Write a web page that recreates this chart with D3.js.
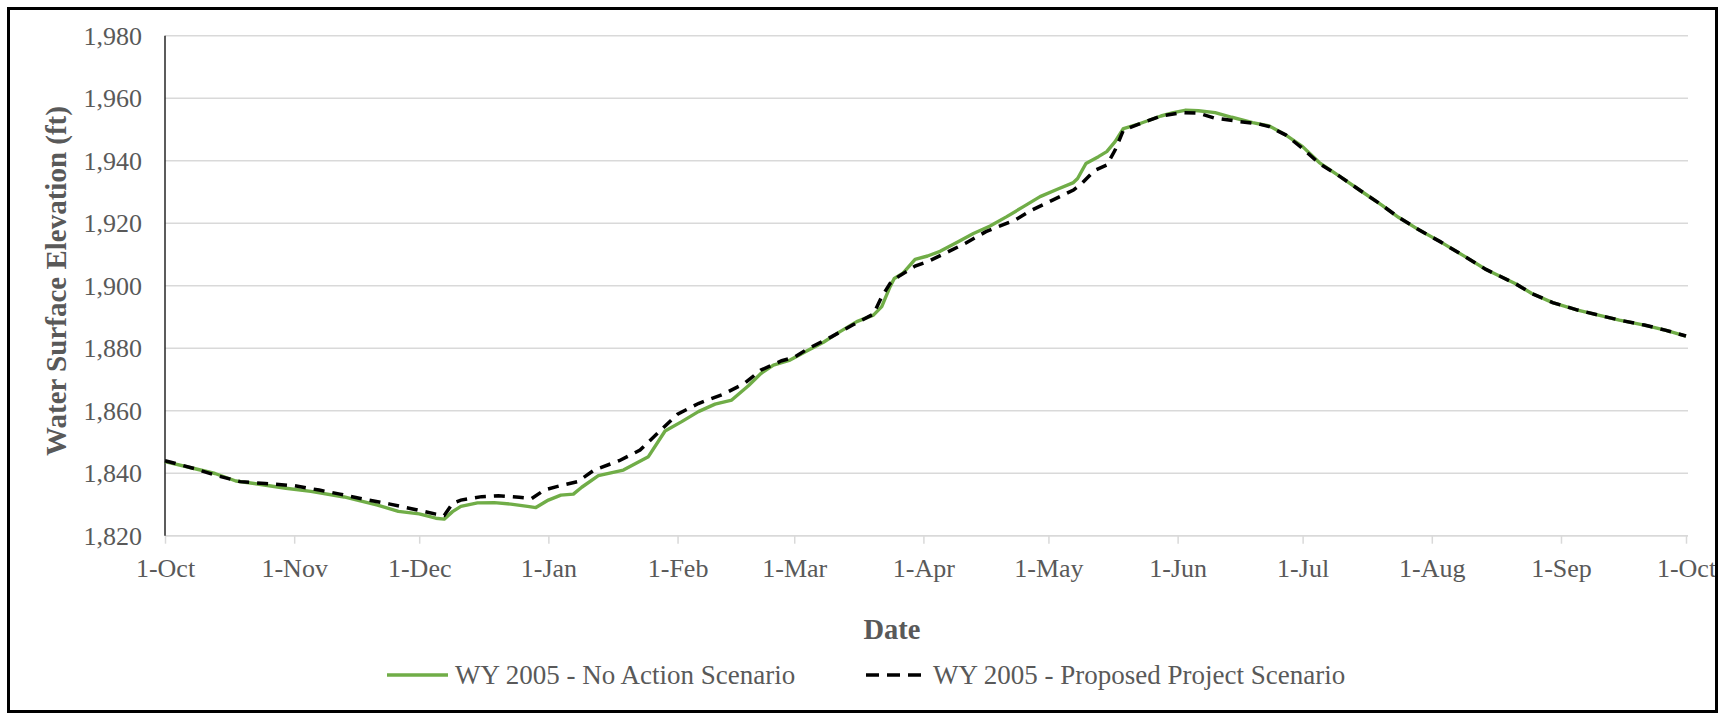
<!DOCTYPE html>
<html>
<head>
<meta charset="utf-8">
<script src="https://cdn.jsdelivr.net/npm/d3@7"></script>
<style>
  body { margin: 0; background: #fff; }
  svg { display: block; }
  text { font-family: "Liberation Serif", "Times New Roman", serif; fill: #595959; }
</style>
</head>
<body>
<svg id="chart" width="1728" height="715"></svg>
<script>
// days are counted from 1-Oct-2004 (start of water year 2005)
const startDate = "2004-10-01";
const endDate = "2005-10-01";

const noActionDays = [0, 7, 12, 17, 23, 29, 35, 43, 51, 56, 61, 65, 67, 69, 71, 75, 79, 83, 87, 89,
  92, 95, 98, 100, 104, 110, 116, 120, 124, 128, 132, 136, 140, 143, 146, 150, 154, 158, 162, 166,
  170, 172, 174, 175, 177, 180, 183, 186, 190, 194, 198, 202, 206, 210, 214, 218, 219, 221, 224, 226,
  228, 230, 234, 239, 242, 245, 248, 252, 256, 261, 265, 269, 273, 277, 282, 287, 292, 296, 301, 306,
  312, 317, 324, 328, 333, 339, 344, 349, 355, 360, 365];
const noActionWse = [1843.7, 1841.5, 1839.9, 1837.5, 1836.4, 1835.2, 1834.2, 1832.4, 1829.8, 1827.8,
  1827.0, 1825.6, 1825.3, 1827.7, 1829.4, 1830.5, 1830.6, 1830.1, 1829.4, 1829.0,
  1831.4, 1833.0, 1833.3, 1835.5, 1839.2, 1841.0, 1845.3, 1853.5, 1856.5, 1859.7,
  1862.1, 1863.4, 1868.0, 1871.9, 1874.6, 1876.2, 1879.1, 1881.9, 1885.3, 1888.5,
  1890.6, 1893.3, 1899.7, 1902.3, 1903.9, 1908.4, 1909.5, 1911.0, 1913.8, 1916.7,
  1919.1, 1922.1, 1925.3, 1928.5, 1930.8, 1933.0, 1934.3, 1939.1, 1941.3, 1942.9,
  1946.1, 1950.3, 1951.9, 1954.3, 1955.4, 1956.2, 1956.0, 1955.4, 1953.9, 1952.2,
  1951.1, 1948.2, 1944.5, 1939.4, 1934.9, 1930.3, 1925.8, 1921.9, 1917.8, 1914.1,
  1909.3, 1905.2, 1900.7, 1897.5, 1894.6, 1892.2, 1890.6, 1889.0, 1887.4, 1885.8, 1883.9];

const proposedDays = [0, 7, 12, 18, 24, 31, 37, 42, 48, 54, 60, 65, 67, 69, 71, 76, 80, 85, 88, 91,
  94, 99, 103, 109, 114, 119, 123, 128, 134, 139, 143, 148, 151, 154, 160, 165, 170, 172, 174, 176,
  180, 183, 188, 192, 197, 204, 208, 213, 218, 220, 223, 226, 228, 230, 234, 239, 244, 248, 252, 258,
  262, 265, 269, 273, 277, 282, 287, 292, 296, 301, 306, 312, 317, 324, 328, 333, 339, 344, 349, 355,
  360, 365];
const proposedWse = [1844.0, 1841.5, 1839.4, 1837.3, 1836.7, 1836.0, 1834.6, 1833.3, 1831.6, 1830.1,
  1828.4, 1826.9, 1826.5, 1830.3, 1831.4, 1832.5, 1832.8, 1832.3, 1831.9, 1834.6,
  1835.7, 1837.3, 1841.0, 1844.0, 1847.4, 1853.8, 1858.9, 1862.3, 1865.3, 1868.7,
  1873.0, 1876.0, 1877.1, 1879.6, 1883.7, 1887.4, 1890.9, 1896.5, 1900.7, 1902.9,
  1906.3, 1907.7, 1910.9, 1913.5, 1917.3, 1921.0, 1924.2, 1927.4, 1930.6, 1932.7,
  1936.8, 1938.6, 1943.4, 1949.8, 1951.9, 1954.3, 1955.4, 1955.2, 1953.6, 1952.5,
  1951.9, 1950.9, 1948.2, 1943.9, 1939.1, 1934.9, 1930.3, 1925.8, 1921.9, 1917.8,
  1914.1, 1909.3, 1905.2, 1900.7, 1897.5, 1894.6, 1892.2, 1890.6, 1889.0, 1887.4,
  1885.8, 1883.9];

const yTicks = [1820, 1840, 1860, 1880, 1900, 1920, 1940, 1960, 1980];
const legendLabels = ["WY 2005 - No Action Scenario", "WY 2005 - Proposed Project Scenario"];
const xTitle = "Date";
const yTitle = "Water Surface Elevation (ft)";

var svg = d3.select("#chart");
var parse = d3.timeParse("%Y-%m-%d");
var t0 = parse(startDate), t1 = parse(endDate);

var x = d3.scaleTime().domain([t0, t1]).range([165, 1686]);
var y = d3.scaleLinear().domain([1820, 1980]).range([535.7, 35.7]);

function toPoints(days, vals) {
    return days.map(function(d, i) { return { date: d3.timeDay.offset(t0, d), v: vals[i] }; });
}
var noAction = toPoints(noActionDays, noActionWse);
var proposed = toPoints(proposedDays, proposedWse);

// horizontal gridlines
svg.append("g")
    .selectAll("line")
    .data(yTicks)
    .enter().append("line")
    .attr("x1", 165).attr("x2", 1688)
    .attr("y1", function(d) { return y(d); })
    .attr("y2", function(d) { return y(d); })
    .attr("stroke", "#d9d9d9")
    .attr("stroke-width", 1.5);

// y tick labels
svg.append("g")
    .selectAll("text")
    .data(yTicks)
    .enter().append("text")
    .attr("x", 142)
    .attr("y", function(d) { return y(d); })
    .attr("dy", "0.34em")
    .attr("text-anchor", "end")
    .style("font-size", "26px")
    .text(d3.format(","));

// x axis: ticks at the first of every month
var xAxis = d3.axisBottom(x)
    .ticks(d3.timeMonth.every(1))
    .tickFormat(d3.timeFormat("%-d-%b"))
    .tickSizeInner(8)
    .tickSizeOuter(0)
    .tickPadding(15);

var gx = svg.append("g")
    .attr("transform", "translate(0," + y(1820) + ")")
    .call(xAxis);
gx.select(".domain").attr("stroke", "#d9d9d9").attr("stroke-width", 1.5).attr("d", "M165,0H1688");
gx.selectAll(".tick line").attr("stroke", "#d9d9d9").attr("stroke-width", 1.5);
gx.selectAll(".tick text")
    .attr("fill", "#595959")
    .style("font-size", "26px")
    .style("font-family", "'Liberation Serif', 'Times New Roman', serif");

// y axis line
svg.append("line")
    .attr("x1", 165).attr("x2", 165)
    .attr("y1", y(1980)).attr("y2", y(1820))
    .attr("stroke", "#262626")
    .attr("stroke-width", 1.5);

var line = d3.line()
    .x(function(d) { return x(d.date); })
    .y(function(d) { return y(d.v); });

svg.append("path")
    .datum(noAction)
    .attr("fill", "none")
    .attr("stroke", "#70ad47")
    .attr("stroke-width", 3.4)
    .attr("stroke-linejoin", "round")
    .attr("d", line);

svg.append("path")
    .datum(proposed)
    .attr("fill", "none")
    .attr("stroke", "#000")
    .attr("stroke-width", 3.5)
    .attr("stroke-dasharray", "11,8")
    .attr("d", line);

// axis titles
svg.append("text")
    .attr("x", 892).attr("y", 639)
    .attr("text-anchor", "middle")
    .style("font-size", "28.5px")
    .style("font-weight", "bold")
    .text(xTitle);

svg.append("text")
    .attr("transform", "translate(66,281) rotate(-90)")
    .attr("text-anchor", "middle")
    .style("font-size", "29px")
    .style("font-weight", "bold")
    .text(yTitle);

// legend
var legend = svg.append("g");
legend.append("line")
    .attr("x1", 387).attr("x2", 448).attr("y1", 675).attr("y2", 675)
    .attr("stroke", "#70ad47").attr("stroke-width", 3.4);
legend.append("text")
    .attr("x", 455).attr("y", 684)
    .style("font-size", "27px")
    .text(legendLabels[0]);
legend.append("line")
    .attr("x1", 866).attr("x2", 926).attr("y1", 675).attr("y2", 675)
    .attr("stroke", "#000").attr("stroke-width", 3.5)
    .attr("stroke-dasharray", "13,8");
legend.append("text")
    .attr("x", 933).attr("y", 684)
    .style("font-size", "27px")
    .text(legendLabels[1]);

// outer frame
svg.append("rect")
    .attr("x", 8.5).attr("y", 8.5)
    .attr("width", 1708).attr("height", 703)
    .attr("fill", "none")
    .attr("stroke", "#000")
    .attr("stroke-width", 3);
</script>
</body>
</html>
